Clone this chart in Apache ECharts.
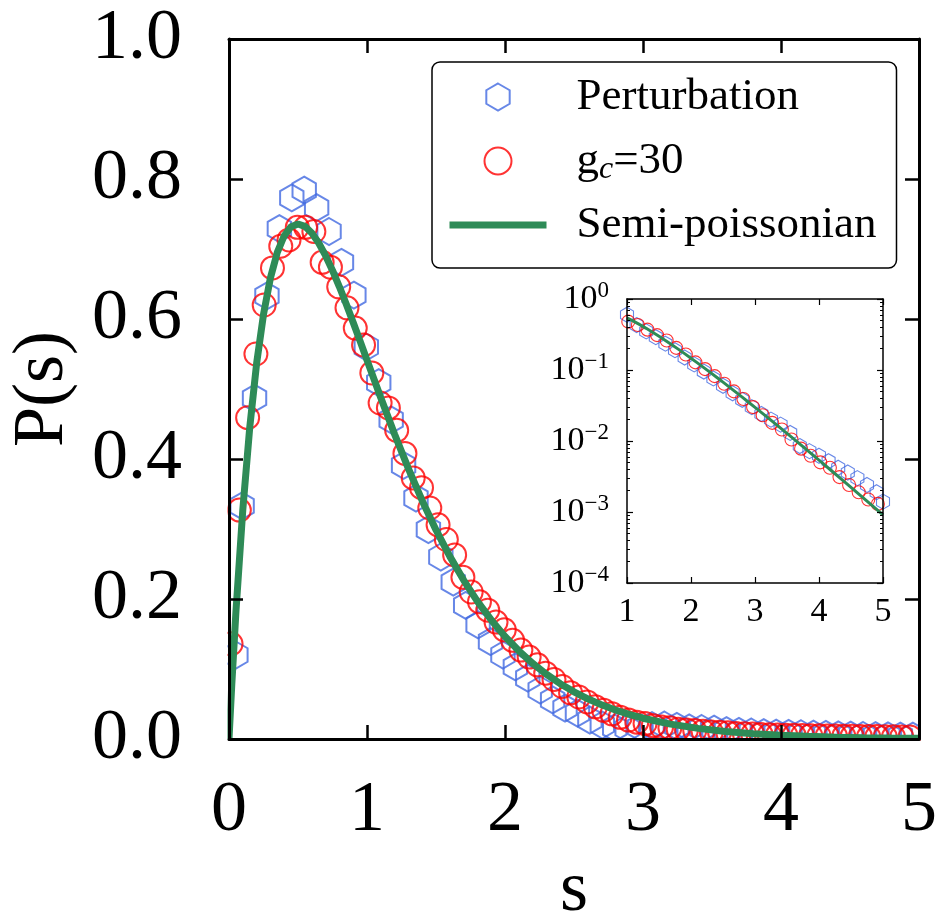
<!DOCTYPE html>
<html><head><meta charset="utf-8">
<script src="https://cdn.jsdelivr.net/npm/echarts@6/dist/echarts.min.js"></script>
<style>html,body{margin:0;padding:0;background:#fff}#c{width:938px;height:920px}</style>
</head><body><div id="c"></div>
<script>
// ---------- data ----------
const blueS = [0.05,0.095,0.185,0.275,0.365,0.455,0.545,0.635,0.725,0.815,0.905,0.995,1.085,1.175,1.265,1.355,1.445,1.535,1.625,1.715,1.805,1.895,1.985,2.075,2.165,2.255,2.345,2.435,2.525,2.615,2.705,2.795,2.885,2.975,3.065,3.155,3.245,3.335,3.425,3.515,3.605,3.695,3.785,3.875,3.965,4.055,4.145,4.235,4.325,4.415,4.505,4.595,4.685,4.775,4.865,4.955];
const blueP = [0.120,0.333,0.487,0.633,0.729,0.773,0.784,0.759,0.725,0.681,0.634,0.560,0.509,0.456,0.391,0.344,0.299,0.260,0.224,0.191,0.163,0.139,0.120,0.103,0.087,0.070,0.056,0.044,0.037,0.027,0.020,0.016,0.015,0.017,0.019,0.020,0.018,0.016,0.015,0.014,0.012,0.011,0.010,0.009,0.0085,0.008,0.0075,0.007,0.0065,0.006,0.0055,0.005,0.0048,0.0045,0.0042,0.004];
const redS = [0.015,0.075,0.135,0.195,0.255,0.315,0.375,0.435,0.495,0.555,0.615,0.675,0.735,0.795,0.855,0.915,0.975,1.035,1.095,1.155,1.215,1.275,1.335,1.395,1.455,1.515,1.575,1.635,1.695,1.755,1.815,1.875,1.935,1.995,2.055,2.115,2.175,2.235,2.295,2.355,2.415,2.475,2.535,2.595,2.655,2.715,2.775,2.835,2.895,2.955,3.015,3.075,3.135,3.195,3.255,3.315,3.375,3.435,3.495,3.555,3.615,3.675,3.735,3.795,3.855,3.915,3.975,4.035,4.095,4.155,4.215,4.275,4.335,4.395,4.455,4.515,4.575,4.635,4.695,4.755,4.815,4.875,4.935];
const redP = [0.136,0.327,0.459,0.550,0.620,0.673,0.704,0.713,0.731,0.731,0.725,0.681,0.674,0.646,0.616,0.587,0.563,0.523,0.480,0.473,0.441,0.408,0.373,0.359,0.330,0.306,0.285,0.263,0.231,0.210,0.196,0.184,0.167,0.156,0.141,0.127,0.117,0.106,0.094,0.085,0.075,0.066,0.060,0.053,0.046,0.041,0.036,0.031,0.027,0.024,0.022,0.019,0.017,0.016,0.014,0.013,0.012,0.011,0.010,0.0095,0.0088,0.0080,0.0075,0.0070,0.0066,0.0060,0.0058,0.0055,0.0052,0.0050,0.0048,0.0046,0.0044,0.0042,0.0040,0.0038,0.0037,0.0035,0.0034,0.0033,0.0031,0.0030,0.0029];
const curveS = [0,0.02,0.05,0.1,0.15,0.2,0.25,0.3,0.35,0.4,0.45,0.5,0.55,0.6,0.65,0.7,0.75,0.8,0.85,0.9,0.95,1.0,1.1,1.2,1.3,1.4,1.5,1.6,1.7,1.8,1.9,2.0,2.1,2.2,2.3,2.4,2.5,2.6,2.7,2.8,2.9,3.0,3.2,3.4,3.6,3.8,4.0,4.2,4.4,4.6,4.8,5.0];
const curveP = [0,0.0769,0.181,0.3275,0.4445,0.5363,0.6065,0.6586,0.6952,0.7189,0.7318,0.7358,0.7324,0.7229,0.7086,0.6905,0.6694,0.6460,0.6211,0.5951,0.5684,0.5413,0.4876,0.4354,0.3862,0.3405,0.2987,0.2609,0.2270,0.1967,0.1701,0.1465,0.1260,0.1081,0.0925,0.0790,0.0674,0.0574,0.0488,0.0414,0.0351,0.0297,0.0213,0.0152,0.0108,0.0076,0.00537,0.00378,0.00265,0.00186,0.00130,0.00091];
const insetBlueS = [1.0,1.15,1.3,1.45,1.6,1.75,1.9,2.05,2.2,2.35,2.5,2.65,2.8,2.95,3.1,3.25,3.4,3.55,3.7,3.85,4.0,4.15,4.3,4.45,4.6,4.75,4.9,5.0];
const insetBlueP = [0.60,0.43,0.35,0.29,0.235,0.19,0.15,0.12,0.095,0.076,0.060,0.047,0.038,0.030,0.024,0.020,0.017,0.013,0.0085,0.0072,0.0062,0.0052,0.0042,0.0036,0.0030,0.0024,0.0019,0.0014];
const insetRedS = [1.02,1.17,1.32,1.47,1.62,1.77,1.92,2.07,2.22,2.37,2.52,2.67,2.82,2.97,3.12,3.27,3.42,3.57,3.72,3.87,4.02,4.17,4.32,4.47,4.62,4.77,4.92];
const insetRedP = [0.48,0.43,0.37,0.31,0.26,0.205,0.165,0.128,0.103,0.082,0.064,0.050,0.039,0.030,0.023,0.018,0.0145,0.0105,0.0078,0.0062,0.0050,0.0042,0.0031,0.0024,0.0019,0.0015,0.0013];
const seriesNames = ['Perturbation', 'gc', 'Semi-poissonian'];
const xTickLabels = ['0','1','2','3','4','5'];
const yTickLabels = ['0.0','0.2','0.4','0.6','0.8','1.0'];
const insetXTickLabels = ['1','2','3','4','5'];

// ---------- helpers ----------
const zip = (a, b) => a.map((v, i) => [v, b[i]]);
const SERIF = 'Liberation Serif';
const BLUE = '#4169E1', RED = '#FF0000', GREEN = '#2E8B57';
const HEX = 'path://M0,-100 L86.6,-50 L86.6,50 L0,100 L-86.6,50 L-86.6,-50 Z';

const mainTick = {show: true, inside: true, length: 14, lineStyle: {color: '#000', width: 2.5}};
const mainLine = {show: true, onZero: false, lineStyle: {color: '#000', width: 3}};
const insTick = {show: true, inside: true, length: 6, lineStyle: {color: '#000', width: 1.2}};
const insLine = {show: true, onZero: false, lineStyle: {color: '#000', width: 1.5}};

const chart = echarts.init(document.getElementById('c'), null, {renderer: 'canvas'});
chart.setOption({
  animation: false,
  backgroundColor: '#fff',
  grid: [
    {left: 229, top: 39, right: 19, bottom: 181, containLabel: false, outerBoundsMode: 'none'},
    {left: 627, top: 299, width: 256, height: 284, containLabel: false, outerBoundsMode: 'none',
     show: true, backgroundColor: '#fff', borderWidth: 0}
  ],
  xAxis: [
    {type: 'value', gridIndex: 0, min: 0, max: 5, interval: 1, position: 'bottom', z: 10,
     axisLine: mainLine, axisTick: mainTick, splitLine: {show: false},
     axisLabel: {margin: 36, fontFamily: SERIF, fontSize: 72, color: '#000',
       formatter: v => xTickLabels[Math.round(v)]},
     name: 's', nameLocation: 'middle', nameGap: 116,
     nameTextStyle: {fontFamily: SERIF, fontSize: 72, color: '#000'}},
    {type: 'value', gridIndex: 0, min: 0, max: 5, interval: 1, position: 'top', z: 10,
     axisLine: mainLine, axisTick: mainTick, splitLine: {show: false}, axisLabel: {show: false}},
    {type: 'value', gridIndex: 1, min: 1, max: 5, interval: 1, position: 'bottom', z: 10,
     axisLine: insLine, axisTick: insTick, splitLine: {show: false},
     axisLabel: {margin: 12, fontFamily: SERIF, fontSize: 34, color: '#000',
       formatter: v => insetXTickLabels[Math.round(v) - 1]}},
    {type: 'value', gridIndex: 1, min: 1, max: 5, interval: 1, position: 'top', z: 10,
     axisLine: insLine, axisTick: insTick, splitLine: {show: false}, axisLabel: {show: false}}
  ],
  yAxis: [
    {type: 'value', gridIndex: 0, min: 0, max: 1, interval: 0.2, position: 'left', z: 10,
     axisLine: mainLine, axisTick: mainTick, splitLine: {show: false},
     axisLabel: {margin: 47, fontFamily: SERIF, fontSize: 72, color: '#000', padding: [0, 0, 16, 0],
       formatter: v => yTickLabels[Math.round(v * 5)]},
     name: 'P(s)', nameLocation: 'middle', nameGap: 150,
     nameTextStyle: {fontFamily: SERIF, fontSize: 72, color: '#000'}},
    {type: 'value', gridIndex: 0, min: 0, max: 1, interval: 0.2, position: 'right', z: 10,
     axisLine: mainLine, axisTick: mainTick, splitLine: {show: false}, axisLabel: {show: false}},
    {type: 'log', logBase: 10, gridIndex: 1, min: 0.0001, max: 1, position: 'left', z: 10,
     axisLine: insLine, axisTick: insTick, splitLine: {show: false},
     minorTick: {show: true, splitNumber: 9, length: 3, lineStyle: {color: '#000', width: 1}},
     axisLabel: {margin: 18, color: '#000',
       formatter: v => { const e = Math.round(Math.log10(v)); return '{b|10}{s|' + (e < 0 ? '\u2212' + (-e) : e) + '}'; },
       rich: {b: {fontFamily: SERIF, fontSize: 34, lineHeight: 40, color: '#000'},
              s: {fontFamily: SERIF, fontSize: 23, lineHeight: 26, verticalAlign: 'top', color: '#000'}}}},
    {type: 'log', logBase: 10, gridIndex: 1, min: 0.0001, max: 1, position: 'right', z: 10,
     axisLine: insLine, axisTick: insTick, splitLine: {show: false},
     minorTick: {show: true, splitNumber: 9, length: 3, lineStyle: {color: '#000', width: 1}},
     axisLabel: {show: false}}
  ],
  legend: {
    left: 432, top: 62, orient: 'vertical', selectedMode: false,
    padding: [10, 20, 18, 14], itemWidth: 97, itemHeight: 27, itemGap: 14,
    backgroundColor: '#fff', borderColor: '#000', borderWidth: 1.5, borderRadius: 8,
    textStyle: {fontFamily: SERIF, fontSize: 45, lineHeight: 50, color: '#000', padding: [0, 0, 0, 25],
      rich: {t: {fontFamily: SERIF, fontSize: 45, lineHeight: 50, color: '#000'},
             s: {fontFamily: SERIF, fontSize: 32, fontStyle: 'italic', lineHeight: 20, verticalAlign: 'bottom', color: '#000'}}},
    formatter: n => n === 'gc' ? '{t|g}{s|c}{t|=30}' : n,
    data: [{name: seriesNames[0]}, {name: seriesNames[1]},
           {name: seriesNames[2], itemStyle: {color: 'transparent', borderWidth: 0, opacity: 0}, lineStyle: {color: GREEN, width: 7}}]
  },
  graphic: [
    {type: 'rect', z: 5, shape: {x: 150, y: 741, width: 788, height: 28}, style: {fill: '#fff'}},
    {type: 'rect', z: 5, shape: {x: 190, y: 20, width: 37.5, height: 740}, style: {fill: '#fff'}},
    {type: 'rect', z: 5, shape: {x: 920.5, y: 20, width: 18, height: 740}, style: {fill: '#fff'}}
  ],
  series: [
    {name: seriesNames[0], type: 'scatter', xAxisIndex: 0, yAxisIndex: 0, data: zip(blueS, blueP),
     symbol: HEX, symbolKeepAspect: true, symbolSize: 27,
     itemStyle: {color: 'transparent', borderColor: BLUE, borderWidth: 2}},
    {name: seriesNames[1], type: 'scatter', xAxisIndex: 0, yAxisIndex: 0, data: zip(redS, redP),
     symbol: 'circle', symbolSize: 23,
     itemStyle: {color: 'transparent', borderColor: RED, borderWidth: 2}},
    {name: seriesNames[2], type: 'line', xAxisIndex: 0, yAxisIndex: 0, data: zip(curveS, curveP),
     symbol: 'none', lineStyle: {color: GREEN, width: 7}, itemStyle: {color: GREEN}, z: 3},
    {name: 'inset-pert', type: 'scatter', xAxisIndex: 2, yAxisIndex: 2, data: zip(insetBlueS, insetBlueP),
     symbol: HEX, symbolKeepAspect: true, symbolSize: 15, z: 6,
     itemStyle: {color: 'transparent', borderColor: BLUE, borderWidth: 1.1}},
    {name: 'inset-gc', type: 'scatter', xAxisIndex: 2, yAxisIndex: 2, data: zip(insetRedS, insetRedP),
     symbol: 'circle', symbolSize: 13, z: 6,
     itemStyle: {color: 'transparent', borderColor: RED, borderWidth: 1.1}},
    {name: 'inset-semi', type: 'line', xAxisIndex: 2, yAxisIndex: 2,
     data: zip(curveS, curveP).filter(d => d[0] >= 1),
     symbol: 'none', lineStyle: {color: GREEN, width: 3}, z: 7}
  ]
});
</script></body></html>
